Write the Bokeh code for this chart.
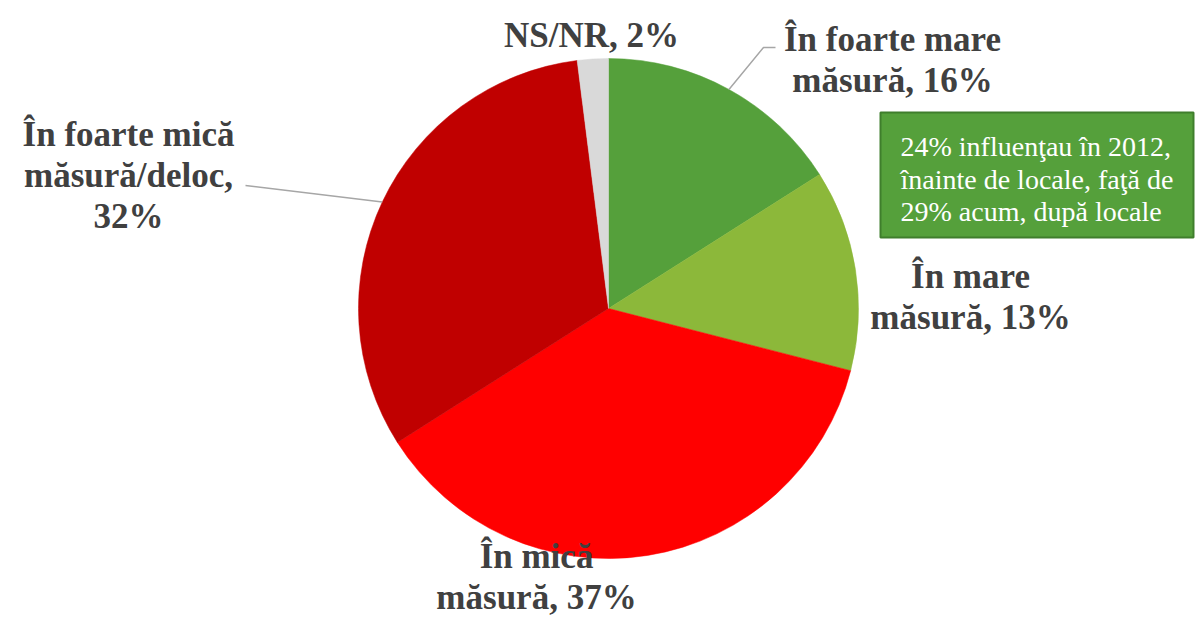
import math
from bokeh.plotting import figure
from bokeh.models import Range1d, ColumnDataSource
from bokeh.core.properties import value
from bokeh.embed import file_html
from bokeh.resources import INLINE

# ---- data ----
categories = ["În foarte mare măsură", "În mare măsură", "În mică măsură",
              "În foarte mică măsură/deloc", "NS/NR"]
percent = [16, 13, 37, 32, 2]
colors = ["#55A03B", "#8CB83A", "#FF0000", "#C00000", "#D9D9D9"]
# label line templates ("|" = line break)
label_templates = ["În foarte mare|măsură, {v}%", "În mare|măsură, {v}%",
                   "În mică|măsură, {v}%", "În foarte mică|măsură/deloc,|{v}%",
                   "NS/NR, {v}%"]
note_lines = ["24% influenţau în 2012,", "înainte de locale, faţă de",
              "29% acum, după locale"]

# ---- layout (image pixel coordinates) ----
W, H = 1195, 618
CX, CY, R = 608, 308, 250
label_pos = [(892, 48), (970, 285), (536, 565), (128, 143), (591, 44)]
LINE_H = 41
TEXT_DY = -9
FONT = "Liberation Serif"

def Y(img_y):
    return H - img_y

p = figure(width=W, height=H, output_backend="svg", toolbar_location=None,
           x_range=Range1d(0, W), y_range=Range1d(0, H),
           x_axis_type=None, y_axis_type=None, min_border=0,
           outline_line_color=None, background_fill_color="white",
           border_fill_color="white")
p.grid.visible = False

total = sum(percent)
starts, ends, mids = [], [], []
c = 0.0
for v in percent:
    a0 = math.pi / 2 - 2 * math.pi * c / total
    c += v
    a1 = math.pi / 2 - 2 * math.pi * c / total
    starts.append(a0)
    ends.append(a1)
    mids.append((a0 + a1) / 2)

src = ColumnDataSource(dict(start=starts, end=ends, color=colors))
p.wedge(x=CX, y=Y(CY), radius=R, start_angle="start", end_angle="end",
        direction="clock", fill_color="color", line_color="color",
        line_width=0.5, source=src)

# leader lines
def edge(i):
    return CX + R * math.cos(mids[i]), Y(CY) + R * math.sin(mids[i])

ex, ey = edge(0)
p.line(x=[775, 763, ex], y=[Y(47), Y(47), ey], line_color="#A6A6A6", line_width=1.5)
ex, ey = edge(3)
p.line(x=[245, ex], y=[Y(185), ey], line_color="#A6A6A6", line_width=1.5)

# labels
tx, ty, tt = [], [], []
for tpl, v, (lx, ly) in zip(label_templates, percent, label_pos):
    for k, line in enumerate(tpl.format(v=v).split("|")):
        tx.append(lx)
        ty.append(Y(ly + k * LINE_H + TEXT_DY))
        tt.append(line)
p.text(x=tx, y=ty, text=tt, text_font=value(FONT), text_font_style="bold",
       text_font_size="35px", text_color="#404040", text_align="center",
       text_baseline="alphabetic")

# note box
p.quad(left=880, right=W - 2, top=Y(112), bottom=Y(237),
       fill_color="#55A03B", line_color="#3F7E2C", line_width=2)
p.text(x=[900] * 3, y=[Y(155 + TEXT_DY), Y(188 + TEXT_DY), Y(220 + TEXT_DY)],
       text=note_lines, text_font=value(FONT), text_font_size="28px",
       text_color="white", text_align="left", text_baseline="alphabetic")

open("out.html", "w").write(file_html(p, INLINE))
